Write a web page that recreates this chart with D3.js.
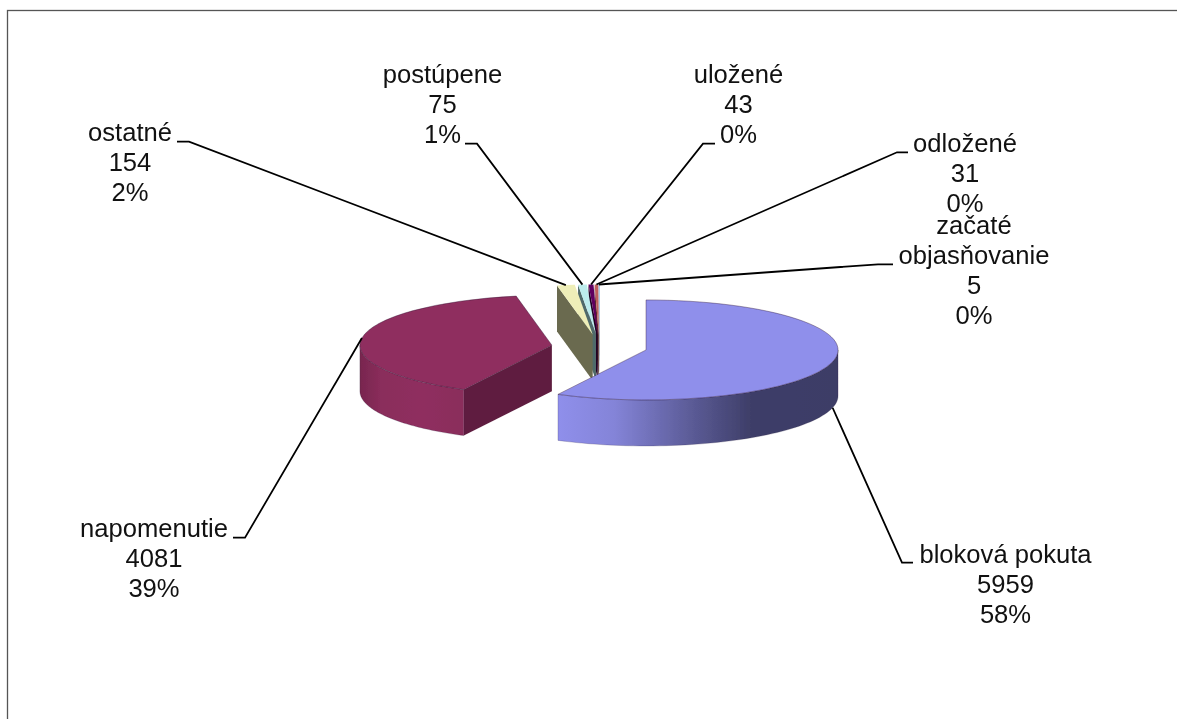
<!DOCTYPE html>
<html>
<head>
<meta charset="utf-8">
<script src="https://cdnjs.cloudflare.com/ajax/libs/d3/7.8.5/d3.min.js"></script>
<style>
html,body{margin:0;padding:0;background:#fff;overflow:hidden}
svg{display:block}
text{font-family:"Liberation Sans",Arial,sans-serif;font-size:25.6px;fill:#111;text-anchor:middle}
</style>
</head>
<body>
<div id="chart"></div>
<script>
// ---- data ----
const categories = ["bloková pokuta","napomenutie","ostatné","postúpene","uložené","odložené","začaté objasňovanie"];
const values = [5959,4081,154,75,43,31,5];
const percents = ["58%","39%","2%","1%","0%","0%","0%"];
const labelLines = [["bloková pokuta"],["napomenutie"],["ostatné"],["postúpene"],["uložené"],["odložené"],["začaté","objasňovanie"]];

// ---- styling ----
const topColors = ["#8F8FEB","#8F2F5F","#EEEEB8","#BCECEC","#5F005F","#C0605C","#1060B0"];
const cutColors = ["#3C3C66","#5F1F3F","#6B6B50","#4F6A6A","#200020","#5A2C2C","#002040"];

// ---- layout ----
const W = 1177, H = 719;
const cx = 599.4, cy = 347, rx = 192, ry = 50, depth = 46, explode = 48;
// label centre x, first baseline y, leader: text end x, elbow x, leader y
const labelLayout = [
  {x:1005.5,y:563, lx:913, ex:902, ly:562.7, wall:true},
  {x:154,   y:537, lx:233, ex:245, ly:537.7},
  {x:130,   y:141, lx:177, ex:189, ly:141.7},
  {x:442.5, y:83,  lx:465, ex:477, ly:143.7},
  {x:738.5, y:83,  lx:715, ex:703, ly:143.7},
  {x:965,   y:152, lx:908, ex:897, ly:152.3},
  {x:974,   y:234, lx:893, ex:878, ly:264.3}
];
const lineStep = 29.9;

const svg = d3.select("#chart").append("svg").attr("width",W).attr("height",H);
const defs = svg.append("defs");
defs.append("filter").attr("id","soft").attr("x","-5%").attr("y","-5%").attr("width","110%").attr("height","110%")
  .append("feGaussianBlur").attr("stdDeviation",0.45);

svg.append("rect").attr("x",7.5).attr("y",10.5).attr("width",W+20).attr("height",H+20)
  .attr("fill","#fff").attr("stroke","#555").attr("stroke-width",1.3);

// Projection of the unit disc onto the tilted ellipse
const px = d3.scaleLinear().domain([-1,1]).range([-rx,rx]);
const py = d3.scaleLinear().domain([-1,1]).range([-ry,ry]);

const pie = d3.pie().sort(null).startAngle(0).endAngle(2*Math.PI);
const arcs = pie(values).map((a,i)=>{
  const mid = (a.startAngle+a.endAngle)/2;
  return {...a, i, mid,
    cx: cx + px(Math.sin(mid))*explode/rx,
    cy: cy + py(-Math.cos(mid))*explode/rx};
});
const rim = (d,ang,dy=0)=>[d.cx+px(Math.sin(ang)), d.cy+py(-Math.cos(ang))+dy];
const line = d3.line();

// Wall gradients (light falling from the left)
const gradStops = [
  {id:"wall0",x1:558,x2:838,stops:[[0,"#8F8FEB"],[0.2,"#8484D8"],[0.47,"#5C5C98"],[0.69,"#3E3E68"],[1,"#3C3C66"]]},
  {id:"wall1",x1:360,x2:464,stops:[[0,"#78264F"],[0.2,"#8A2D5B"],[0.6,"#8F2F5F"],[1,"#8A2D5B"]]}
];
gradStops.forEach(g=>{
  const lg = defs.append("linearGradient").attr("id",g.id).attr("gradientUnits","userSpaceOnUse")
    .attr("x1",g.x1).attr("x2",g.x2).attr("y1",0).attr("y2",0);
  g.stops.forEach(s=>lg.append("stop").attr("offset",s[0]).attr("stop-color",s[1]));
});

const pieG = svg.append("g").attr("filter","url(#soft)");
const topArc = d3.arc().innerRadius(0).outerRadius(rx);

// Painter's order: thin slices right-to-left, then the two large slices
const order = [6,5,4,3,2,1,0];
order.forEach(i=>{
  const d = arcs[i];
  const g = pieG.append("g");
  // start-side cut wall
  const s = rim(d,d.startAngle);
  g.append("path")
    .attr("d",line([[d.cx,d.cy],s,[s[0],s[1]+depth],[d.cx,d.cy+depth]])+"Z")
    .attr("fill",cutColors[i]);
  // visible part of the outer wall
  const a0 = Math.max(d.startAngle,Math.PI/2), a1 = Math.min(d.endAngle,3*Math.PI/2);
  if(a1>a0){
    const angs = d3.range(0,61).map(k=>a0+(a1-a0)*k/60);
    const up = angs.map(a=>rim(d,a));
    const dn = angs.map(a=>rim(d,a,depth)).reverse();
    g.append("path").attr("d",line(up.concat(dn))+"Z")
      .attr("fill",i<2?`url(#wall${i})`:cutColors[i])
      .attr("stroke","#2a2040").attr("stroke-opacity",0.35).attr("stroke-width",0.6);
  }
  // top face
  g.append("path").attr("d",topArc(d))
    .attr("transform",`translate(${d.cx},${d.cy}) scale(1,${ry/rx})`)
    .attr("fill",topColors[i])
    .attr("stroke",i<2?"#2a1030":"none").attr("stroke-opacity",0.55)
    .attr("stroke-width",0.7).attr("vector-effect","non-scaling-stroke");
});

// Leader lines
const leaderG = svg.append("g").attr("fill","none").attr("stroke","#000").attr("stroke-width",1.8);
arcs.forEach((d,i)=>{
  const L = labelLayout[i];
  const p = rim(d,d.mid,L.wall?depth:0);
  leaderG.append("path").attr("d",line([[L.lx,L.ly],[L.ex,L.ly],p]));
});

// Labels
const labelG = svg.append("g");
arcs.forEach((d,i)=>{
  const L = labelLayout[i];
  const rows = labelLines[i].concat([String(values[i]),percents[i]]);
  rows.forEach((t,k)=>{
    labelG.append("text").attr("x",L.x).attr("y",L.y+k*lineStep).text(t);
  });
});
</script>
</body>
</html>
